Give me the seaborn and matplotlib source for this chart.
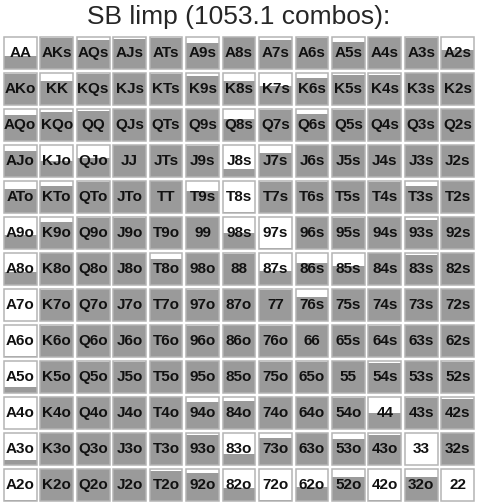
import matplotlib
matplotlib.use("Agg")
import matplotlib.pyplot as plt
import seaborn as sns
import numpy as np
import pandas as pd
from matplotlib.colors import ListedColormap

# DATA
ranks = ['A', 'K', 'Q', 'J', 'T', '9', '8', '7', '6', '5', '4', '3', '2']
title = 'SB limp (1053.1 combos):'

# fraction of each hand that is limped (row = first rank, col = second rank)
limp_freq = [
    [0.40, 0.95, 0.90, 0.93, 0.95, 0.80, 1.00, 0.90, 0.95, 0.83, 1.00, 0.97, 0.60],  # A
    [0.95, 0.75, 0.97, 1.00, 0.97, 0.90, 0.75, 0.60, 0.85, 0.93, 0.93, 1.00, 1.00],  # K
    [0.80, 0.90, 0.93, 1.00, 1.00, 1.00, 0.70, 0.95, 0.85, 0.97, 1.00, 1.00, 1.00],  # Q
    [0.80, 0.50, 0.60, 1.00, 1.00, 0.95, 0.25, 0.75, 1.00, 1.00, 1.00, 1.00, 1.00],  # J
    [0.75, 0.85, 0.95, 1.00, 1.00, 0.70, 0.04, 0.95, 0.95, 1.00, 0.95, 0.85, 1.00],  # T
    [0.45, 0.85, 0.95, 0.95, 1.00, 1.00, 0.50, 0.05, 1.00, 0.97, 1.00, 0.90, 1.00],  # 9
    [0.40, 1.00, 1.00, 1.00, 0.80, 1.00, 0.95, 0.45, 0.70, 0.60, 1.00, 0.93, 1.00],  # 8
    [0.02, 0.95, 1.00, 1.00, 1.00, 0.95, 1.00, 0.95, 0.75, 1.00, 1.00, 1.00, 1.00],  # 7
    [0.04, 0.95, 1.00, 1.00, 1.00, 0.95, 1.00, 0.95, 1.00, 1.00, 0.95, 1.00, 1.00],  # 6
    [0.20, 1.00, 0.95, 0.95, 1.00, 1.00, 1.00, 0.97, 0.97, 1.00, 0.93, 1.00, 0.97],  # 5
    [0.02, 1.00, 1.00, 1.00, 1.00, 0.85, 0.88, 1.00, 1.00, 0.97, 0.50, 0.95, 0.93],  # 4
    [0.15, 1.00, 1.00, 1.00, 1.00, 0.93, 0.35, 0.85, 1.00, 0.80, 0.93, 0.00, 1.00],  # 3
    [0.05, 1.00, 1.00, 1.00, 0.93, 0.88, 0.40, 0.05, 0.45, 0.75, 0.05, 0.75, 0.00],  # 2
]

# hand labels: pairs on diagonal, suited above, offsuit below
labels = []
for r in range(13):
    row = []
    for c in range(13):
        if r == c:
            row.append(ranks[r] + ranks[c])
        elif c > r:
            row.append(ranks[r] + ranks[c] + 's')
        else:
            row.append(ranks[c] + ranks[r] + 'o')
    labels.append(row)
labels = np.array(labels)

sns.set_theme(style="white")
plt.rcParams['font.family'] = ['Liberation Sans', 'DejaVu Sans']

W, H = 478, 504
fig = plt.figure(figsize=(W / 100, H / 100), dpi=100)
fig.patch.set_facecolor('white')
ax = fig.add_axes([2 / W, 1 / H, 474 / W, 468 / H])

df = pd.DataFrame(np.zeros((13, 13)))
sns.heatmap(df, ax=ax, annot=labels, fmt="", cmap=ListedColormap(['white']),
            cbar=False, xticklabels=False, yticklabels=False,
            annot_kws=dict(fontsize=11, fontweight='bold', color='#111111'))

box = 0.9
pad = (1 - box) / 2
fill_col = '#9a9a9a'
for r in range(13):
    xs = np.arange(13) + 0.5
    fr = np.array(limp_freq[r])
    ax.bar(xs, -fr * box, bottom=r + 1 - pad, width=box, color=fill_col,
           linewidth=0, zorder=2)
    ax.bar(xs, box, bottom=r + pad, width=box, fill=False,
           edgecolor='#b4b4b4', linewidth=1.1, zorder=2.5)

ax.set_xlim(0, 13)
ax.set_ylim(13, 0)
ax.axis('off')

fig.text(0.5, 1 - 17 / H, title, ha='center', va='center', fontsize=19)

plt.savefig("out.png", dpi=100)
